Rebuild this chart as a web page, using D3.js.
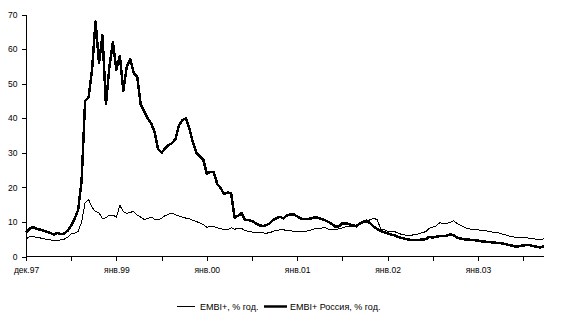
<!DOCTYPE html>
<html>
<head>
<meta charset="utf-8">
<script src="https://cdn.jsdelivr.net/npm/d3@7"></script>
<style>
  html, body { margin: 0; padding: 0; background: #fff; }
  svg { display: block; }
  text { font-family: "Liberation Sans", Arial, sans-serif; fill: #000; }
</style>
</head>
<body>
<svg id="chart" width="566" height="323"></svg>
<script>
// Spreads, % per year, sampled every two weeks from Dec 1997
const embiRussia = [
  7.0, 8.0, 8.5, 8.0, 7.8, 7.5, 7.2, 6.8, 6.3, 6.8,
  6.5, 6.6, 7.5, 9.0, 11.0, 13.5, 22, 45, 46, 54,
  68, 56, 64, 44, 55, 62, 54, 58, 48, 55,
  57, 53, 52, 44, 42, 40, 38.5, 36, 31, 30,
  31.3, 32.2, 32.8, 34, 38, 39.5, 40, 37, 33, 30,
  29, 28, 24, 24.5, 24.5, 21, 19.8, 18, 18.5, 18.3,
  11.2, 11.8, 12.5, 10.5, 10.5, 10.3, 9.6, 9.1, 8.8, 9,
  9.5, 10.5, 11, 11.5, 11, 11.8, 12.2, 12.2, 11.6, 11,
  10.8, 10.8, 11, 11.3, 11.2, 10.9, 10.5, 10, 9.4, 8.6,
  8.7, 9.6, 9.6, 9.3, 9.1, 8.7, 9.5, 10, 10.4, 9.6,
  8.6, 8, 7.4, 7, 6.7, 6.4, 6.1, 5.7, 5.4, 5.1,
  4.9, 4.8, 4.8, 4.8, 4.9, 5, 5.7, 5.5, 5.7, 5.9,
  5.9, 6, 6.4, 6.2, 5.5, 5.2, 5, 4.9, 4.8, 4.7,
  4.6, 4.4, 4.3, 4.2, 4.1, 4, 3.9, 3.8, 3.6, 3.3,
  3.1, 2.8, 3.0, 3.2, 3.3, 3.3, 3.0, 2.8, 2.6, 3.0
];
const embiPlus = [
  5.0, 5.8, 5.9, 5.5, 5.4, 5.1, 5.0, 4.8, 4.7, 4.7,
  4.8, 5.0, 5.6, 6.5, 6.8, 7.2, 10, 15.5, 16.5, 14.2,
  13, 12.6, 11, 11.2, 12, 12, 11.4, 14.8, 13, 12.4,
  12.8, 13, 12, 11.4, 10.7, 11, 11.4, 10.8, 10.6, 11.1,
  11.8, 12.2, 12.6, 12.1, 11.7, 11.4, 11.1, 10.9, 10.5, 10.1,
  9.7, 9.2, 8.5, 8.6, 8.7, 8.3, 8.1, 7.8, 7.8, 8.3,
  7.9, 8.1, 8.1, 7.5, 7.3, 7.1, 6.9, 6.9, 6.9, 6.7,
  6.9, 7.2, 7.6, 7.7, 7.7, 7.6, 7.5, 7.3, 7.2, 7.2,
  7.2, 7.4, 7.7, 8, 8.1, 8.2, 8.4, 7.9, 7.8, 7.7,
  8, 8.3, 8.6, 8.7, 8.8, 9.1, 9.6, 10, 9.8, 10.8,
  10.9, 10.8, 8.0, 7.8, 7.3, 7.1, 7.2, 6.8, 6.4, 6.2,
  6.2, 6.2, 6.3, 6.6, 6.9, 7.2, 8.2, 8.5, 8.8, 9.8,
  9.4, 9.6, 9.8, 10.3, 9.6, 9, 8.5, 8.1, 7.9, 7.8,
  7.7, 7.6, 7.5, 7.3, 7.1, 7, 6.8, 6.5, 6.2, 5.9,
  5.7, 5.5, 5.5, 5.5, 5.4, 5.3, 5.1, 5, 4.9, 5.1
];
// Category axis: one tick every 26 weeks, a label every 52 weeks
const tickLabels = ["дек.97", "янв.99", "янв.00", "янв.01", "янв.02", "янв.03"];
const yTicks = [0, 10, 20, 30, 40, 50, 60, 70];
const seriesNames = ["EMBI+, % год.", "EMBI+ Россия, % год."];

const weekStep = 2;
const weeks = embiPlus.map((_, i) => i * weekStep);

const svg = d3.select("#chart");

const x = d3.scaleLinear().domain([0, 298]).range([26, 544]);
const y = d3.scaleLinear().domain([0, 70]).range([256.5, 14.5]);

// Y axis
const yAxis = d3.axisLeft(y)
  .tickValues(yTicks)
  .tickSize(4)
  .tickSizeOuter(0)
  .tickPadding(4);
svg.append("g")
  .attr("transform", "translate(25.5,0)")
  .call(yAxis);

// X axis
const xTickVals = d3.range(0, 298, 26);
const xAxis = d3.axisBottom(x)
  .tickValues(xTickVals)
  .tickSize(4)
  .tickSizeOuter(0)
  .tickPadding(6)
  .tickFormat(d => (d % 52 === 0 ? tickLabels[d / 52] : ""));
const gx = svg.append("g")
  .attr("transform", `translate(0,${256.5})`)
  .call(xAxis);

svg.selectAll(".domain").attr("stroke", "#000").attr("shape-rendering", "crispEdges");
svg.selectAll(".tick line").attr("stroke", "#000").attr("shape-rendering", "crispEdges");
svg.selectAll(".tick text")
  .attr("font-size", "8.5px")
  .attr("font-family", "'Liberation Sans', Arial, sans-serif")
  .attr("fill", "#000");
gx.select(".domain").attr("d", `M25.5,0H544`);

// Lines, drawn aliased like the original spreadsheet graphics
const line = vals => d3.line()
  .x((d, i) => x(weeks[i]))
  .y(d => y(d))(vals);

svg.append("path")
  .attr("d", line(embiPlus))
  .attr("fill", "none")
  .attr("stroke", "#000")
  .attr("stroke-width", 1)
  .attr("shape-rendering", "crispEdges");

svg.append("path")
  .attr("d", line(embiRussia))
  .attr("fill", "none")
  .attr("stroke", "#000")
  .attr("stroke-width", 2.5)
  .attr("stroke-linejoin", "round")
  .attr("shape-rendering", "crispEdges");

// Legend
const legend = svg.append("g").attr("transform", "translate(0,306)");
legend.append("line")
  .attr("x1", 177).attr("x2", 195).attr("y1", 0.5).attr("y2", 0.5)
  .attr("stroke", "#000").attr("stroke-width", 1);
legend.append("text")
  .attr("x", 200).attr("y", 3.5)
  .attr("font-size", "9px")
  .text(seriesNames[0]);
legend.append("line")
  .attr("x1", 264).attr("x2", 287).attr("y1", 0.5).attr("y2", 0.5)
  .attr("stroke", "#000").attr("stroke-width", 2.5);
legend.append("text")
  .attr("x", 290).attr("y", 3.5)
  .attr("font-size", "9px")
  .text(seriesNames[1]);
</script>
</body>
</html>
